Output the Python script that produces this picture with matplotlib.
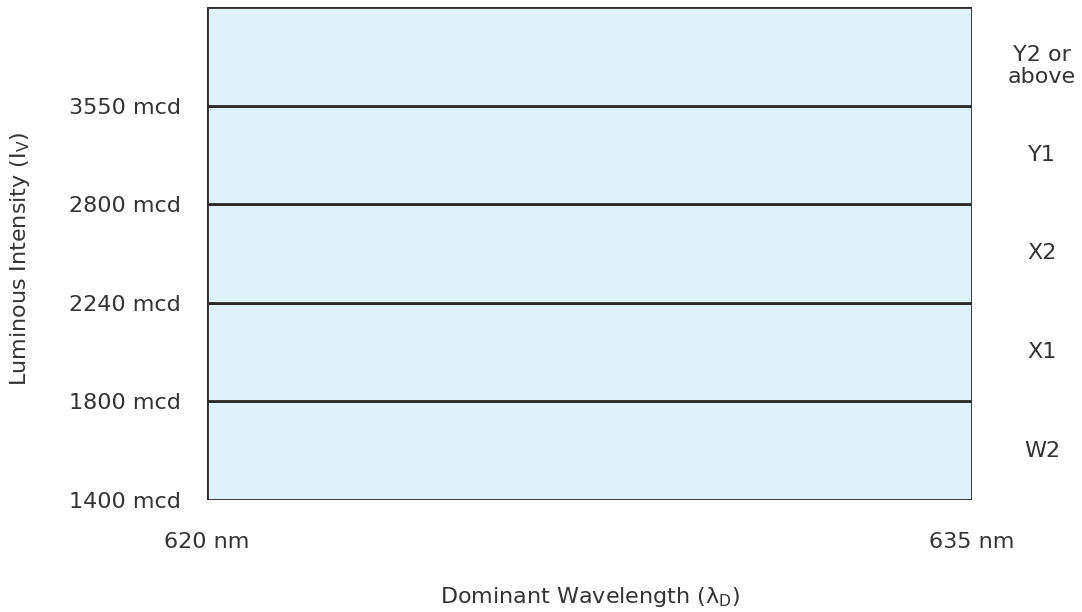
import matplotlib
matplotlib.use("Agg")
import matplotlib.pyplot as plt

plt.rcParams['font.family'] = ['DejaVu Sans']
plt.rcParams['mathtext.fontset'] = 'dejavusans'

# Data
boundaries_mcd = [1400, 1800, 2240, 2800, 3550]
boundary_labels = [f"{v} mcd" for v in boundaries_mcd]
bin_names = ["W2", "X1", "X2", "Y1", "Y2 or\nabove"]
wavelength_range = [620, 635]
wavelength_labels = ["620 nm", "635 nm"]

fill = "#dff2fa"
edge = "#2a2a2a"
txt = "#333333"
fs = 16

fig = plt.figure(figsize=(10.82, 6.12), dpi=100)
ax = fig.add_axes([207/1082, 1-500/612, (972-207)/1082, (500-7)/612])

n = len(bin_names)
for i, name in enumerate(bin_names):
    ax.barh(i + 0.5, wavelength_range[1] - wavelength_range[0], left=wavelength_range[0],
            height=1, color=fill, edgecolor=edge, linewidth=2.0, zorder=2)
    off = -0.1 if "\n" in name else 0
    ax.text(1.0 + 70/765, i + 0.5 + off, name, transform=ax.get_yaxis_transform(),
            ha="center", va="center", fontsize=fs, color=txt, linespacing=1.15)

ax.set_xlim(wavelength_range)
ax.set_ylim(0, n)
ax.set_yticks(range(len(boundaries_mcd)))
ax.set_yticklabels(boundary_labels)
ax.set_xticks(wavelength_range)
ax.set_xticklabels(wavelength_labels)
ax.tick_params(axis="y", length=0, pad=19, labelsize=fs, labelcolor=txt)
ax.tick_params(axis="x", length=0, pad=23, labelsize=fs, labelcolor=txt)
for s in ax.spines.values():
    s.set_visible(False)

fig.text(20/1082, 1-259/612, r"Luminous Intensity (I$_\mathregular{V}$)", rotation=90,
         ha="center", va="center", fontsize=fs, color=txt)
fig.text(590/1082, 1-597/612, r"Dominant Wavelength ($\mathregular{\lambda_D}$)",
         ha="center", va="center", fontsize=fs, color=txt)

fig.savefig("out.png", dpi=100)
